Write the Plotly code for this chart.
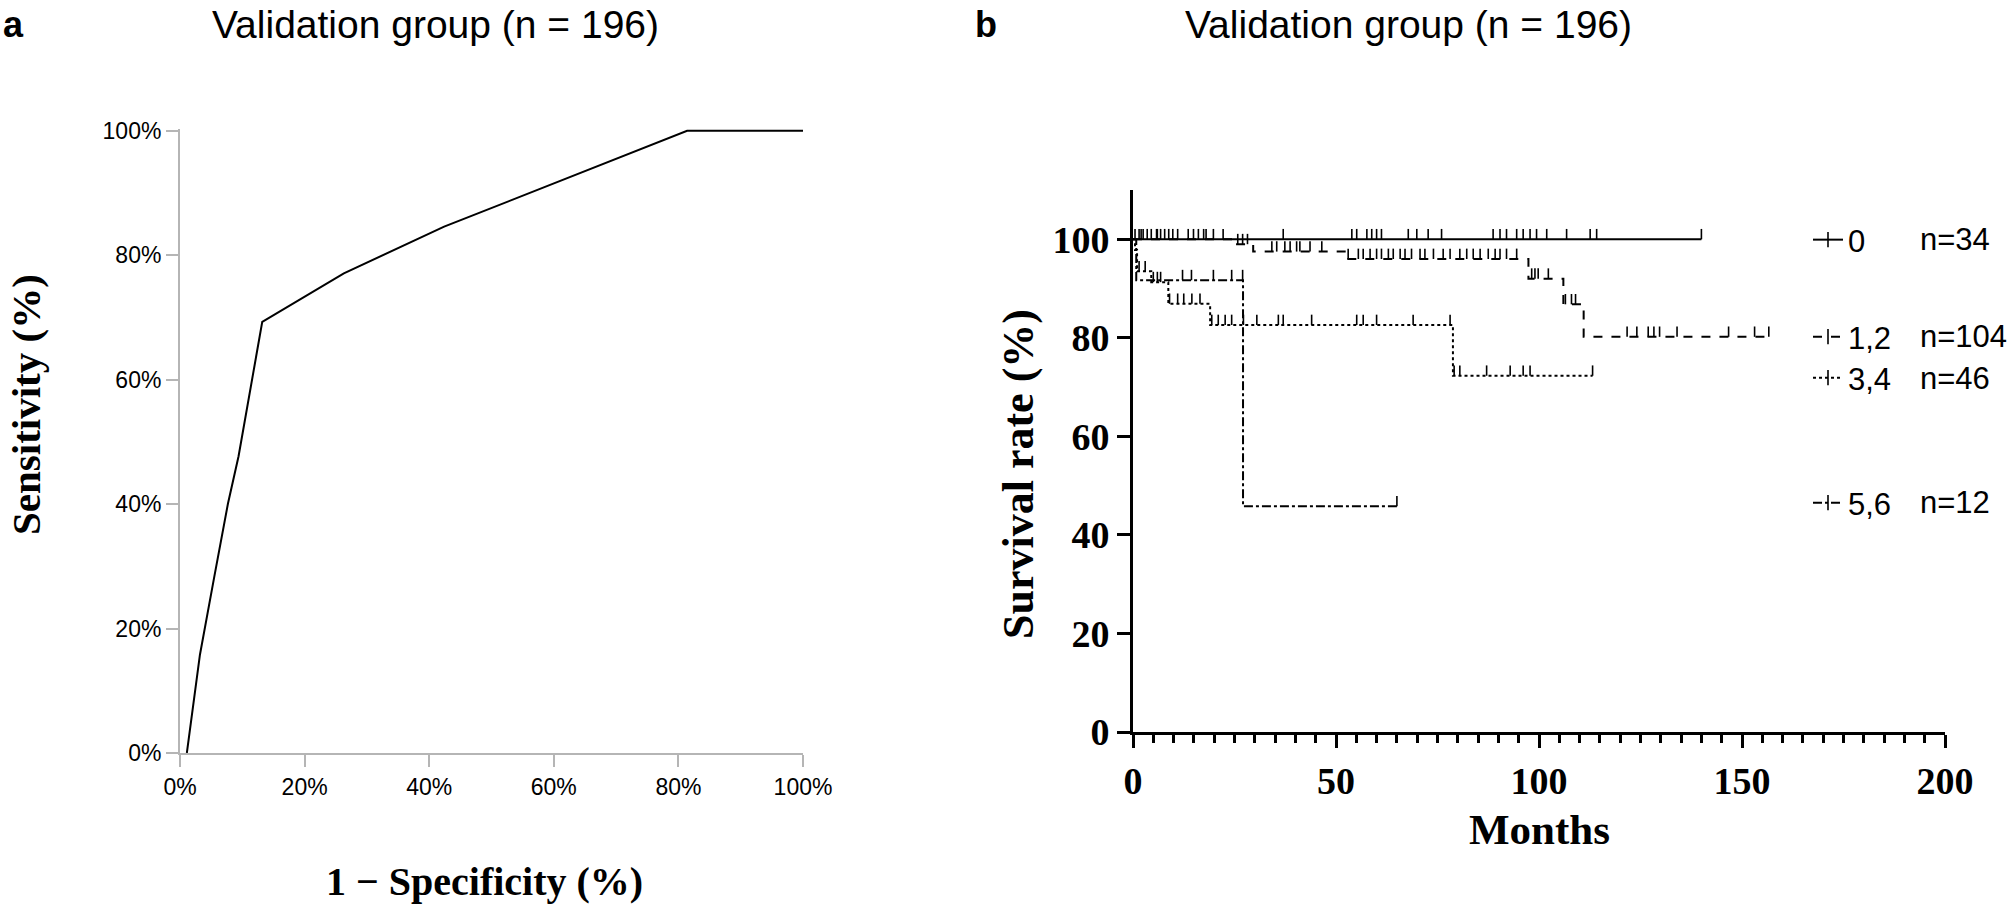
import plotly.graph_objects as go

W, H = 2008, 904


def px(x):
    return x / W


def py(y):
    return 1 - y / H


# ---------------- Panel a: ROC ----------------
roc_fpr = [0.011, 0.032, 0.055, 0.077, 0.094, 0.132, 0.263, 0.424, 0.814, 1.0]
roc_tpr = [0.0, 0.158, 0.283, 0.401, 0.477, 0.693, 0.771, 0.846, 1.0, 1.0]
roc_ticks = [0, 0.2, 0.4, 0.6, 0.8, 1.0]

# ---------------- Panel b: Kaplan-Meier ----------------
groups = ["0", "1,2", "3,4", "5,6"]
group_n = ["n=34", "n=104", "n=46", "n=12"]

g0_event_t = []
g0_event_s = []
g0_end = 140.0
g0_cens = [0.5, 1.5, 2.5, 3.5, 4.5, 5.8, 6.8, 7.8, 8.8, 9.8, 13.6, 14.9, 16.1,
           17.4, 19.8, 22.2, 37.0, 53.9, 55.1, 57.6, 58.8, 60.0, 61.2, 67.8,
           69.9, 72.7, 76.0, 88.7, 90.4, 92.0, 94.5, 96.1, 97.8, 99.4, 101.9,
           106.8, 112.6, 114.2, 140.0]

g1_event_t = [25.0, 29.6, 52.6, 97.4, 106.0, 111.0]
g1_event_s = [99.0, 97.5, 96.0, 92.0, 86.8, 80.2]
g1_end = 157.0
g1_cens = [2.0, 6.0, 11.0, 18.0, 25.8, 27.0, 28.2, 34.2, 35.4, 37.4, 38.7,
           40.3, 41.1, 43.6, 46.5, 53.0, 55.5, 56.7, 58.4, 60.0, 61.2, 62.9,
           64.1, 65.8, 67.0, 68.6, 70.7, 71.9, 74.0, 76.4, 78.1, 80.5, 82.2,
           83.8, 85.5, 87.5, 89.2, 90.4, 92.0, 94.5, 98.2, 99.0, 99.8, 102.3,
           106.5, 108.0, 109.0, 121.7, 124.1, 126.9, 128.3, 129.7, 134.0,
           146.7, 153.1, 156.6]

g2_event_t = [0.5, 1.0, 4.5, 8.7, 19.0, 78.8]
g2_event_s = [97.8, 93.5, 91.3, 86.9, 82.6, 72.3]
g2_end = 113.2
g2_cens = [1.5, 3.0, 5.0, 6.0, 6.8, 9.0, 11.0, 12.5, 14.5, 16.5, 19.4, 21.0,
           22.7, 24.3, 27.2, 30.5, 35.8, 37.0, 44.0, 55.1, 56.7, 60.0, 69.0,
           78.1, 79.1, 80.5, 87.1, 92.9, 96.1, 97.8, 113.2]

g3_event_t = [0.8, 27.1]
g3_event_s = [91.7, 45.8]
g3_end = 65.0
g3_cens = [12.2, 14.4, 19.8, 24.3, 27.0, 65.0]

km_ticks_x = [0, 50, 100, 150, 200]
km_ticks_y = [0, 20, 40, 60, 80, 100]

km = [
    (g0_event_t, g0_event_s, g0_end, g0_cens, "solid"),
    (g1_event_t, g1_event_s, g1_end, g1_cens, "dash"),
    (g2_event_t, g2_event_s, g2_end, g2_cens, "dot"),
    (g3_event_t, g3_event_s, g3_end, g3_cens, "dashdot"),
]
legend_rows = [240, 337, 378, 503]

SANS = "Liberation Sans, Arial, Helvetica, sans-serif"
SERIF = "Liberation Serif, Times New Roman, serif"

fig = go.Figure()

fig.add_trace(go.Scatter(
    x=roc_fpr, y=roc_tpr, mode="lines",
    line=dict(color="black", width=2),
    xaxis="x", yaxis="y", showlegend=False, hoverinfo="skip",
))


def surv_at(t, ev_t, ev_s):
    s = 100.0
    for et, es in zip(ev_t, ev_s):
        if t >= et:
            s = es
    return s


for i, (ev_t, ev_s, end, cens, dash) in enumerate(km):
    xs = [0.0] + ev_t + [end]
    ys = [100.0] + ev_s + [ev_s[-1] if ev_s else 100.0]
    leg = "legend" if i == 0 else f"legend{i + 1}"
    fig.add_trace(go.Scatter(
        x=xs, y=ys, mode="lines", line=dict(color="black", width=2, dash=dash, shape="hv"),
        xaxis="x2", yaxis="y2", showlegend=False, hoverinfo="skip",
    ))
    cy = [surv_at(t, ev_t, ev_s) for t in cens]
    fig.add_trace(go.Scatter(
        x=cens, y=cy, mode="markers",
        marker=dict(size=1, color="rgba(0,0,0,0)"),
        error_y=dict(type="data", symmetric=False, array=[2.1] * len(cens),
                     arrayminus=[0] * len(cens), width=0, thickness=1.6, color="black"),
        xaxis="x2", yaxis="y2", showlegend=False, hoverinfo="skip",
    ))
    # legend-only entry (line sample with a censor tick)
    fig.add_trace(go.Scatter(
        x=[None], y=[None], mode="lines+markers", name=groups[i],
        line=dict(color="black", width=2, dash=dash),
        marker=dict(symbol="line-ns", size=11, color="black",
                    line=dict(color="black", width=1.6)),
        xaxis="x2", yaxis="y2", legend=leg, showlegend=True, hoverinfo="skip",
    ))

grey = "#b5b5b5"
layout = dict(
    width=W, height=H,
    margin=dict(l=0, r=0, t=0, b=0, autoexpand=False),
    paper_bgcolor="white", plot_bgcolor="white",
    xaxis=dict(domain=[px(180), px(803)], range=[0, 1], anchor="y", automargin=False,
               showline=True, linecolor=grey, linewidth=2,
               ticks="outside", ticklen=12, tickwidth=2, tickcolor=grey,
               tickvals=roc_ticks, tickformat=".0%", showgrid=False, zeroline=False,
               tickfont=dict(family=SANS, size=23, color="black")),
    yaxis=dict(domain=[py(753), py(129)], range=[0, 1.003], anchor="x", automargin=False,
               showline=True, linecolor=grey, linewidth=2,
               ticks="outside", ticklen=12, tickwidth=2, tickcolor=grey,
               tickvals=roc_ticks, tickformat=".0%", showgrid=False, zeroline=False,
               tickfont=dict(family=SANS, size=23, color="black")),
    xaxis2=dict(domain=[px(1133), px(1945)], range=[0, 200], anchor="y2", automargin=False,
                showline=True, linecolor="black", linewidth=3,
                ticks="outside", ticklen=13, tickwidth=3, tickcolor="black",
                tickvals=km_ticks_x, showgrid=False, zeroline=False,
                minor=dict(dtick=5, ticks="outside", ticklen=8, tickwidth=2.5,
                           tickcolor="black", showgrid=False),
                tickfont=dict(family=SERIF, size=38, color="black", weight="bold")),
    yaxis2=dict(domain=[py(732), py(190)], range=[0, 110], anchor="x2", automargin=False,
                showline=True, linecolor="black", linewidth=3,
                ticks="outside", ticklen=13, tickwidth=3, tickcolor="black",
                tickvals=km_ticks_y, showgrid=False, zeroline=False,
                tickfont=dict(family=SERIF, size=38, color="black", weight="bold")),
)

for i, row in enumerate(legend_rows):
    key = "legend" if i == 0 else f"legend{i + 1}"
    layout[key] = dict(x=px(1808), y=py(row), xanchor="left", yanchor="middle",
                       bgcolor="rgba(0,0,0,0)", borderwidth=0,
                       font=dict(family=SANS, size=31, color="black"),
                       itemwidth=30)

fig.update_layout(**layout)

annotations = [
    dict(text="a", x=px(13), y=py(25), font=dict(family=SANS, size=36, color="black", weight="bold")),
    dict(text="Validation group (n = 196)", x=px(435), y=py(25),
         font=dict(family=SANS, size=39, color="black")),
    dict(text="b", x=px(986), y=py(25), font=dict(family=SANS, size=36, color="black", weight="bold")),
    dict(text="Validation group (n = 196)", x=px(1408), y=py(25),
         font=dict(family=SANS, size=39, color="black")),
    dict(text="Sensitivity (%)", x=px(26), y=py(405), textangle=-90,
         font=dict(family=SERIF, size=41, color="black", weight="bold")),
    dict(text="1 \u2212 Specificity (%)", x=px(484), y=py(881),
         font=dict(family=SERIF, size=40, color="black", weight="bold")),
    dict(text="Survival rate (%)", x=px(1018), y=py(474), textangle=-90,
         font=dict(family=SERIF, size=44, color="black", weight="bold")),
    dict(text="Months", x=px(1539), y=py(829),
         font=dict(family=SERIF, size=43, color="black", weight="bold")),
]
for label, row in zip(group_n, legend_rows):
    annotations.append(dict(text=label, x=px(1918), y=py(row), xanchor="left",
                            font=dict(family=SANS, size=31, color="black")))

for a in annotations:
    a.setdefault("xanchor", "center")
    a.update(xref="paper", yref="paper", yanchor="middle", showarrow=False)
fig.update_layout(annotations=annotations)

fig.write_html("out.html")
